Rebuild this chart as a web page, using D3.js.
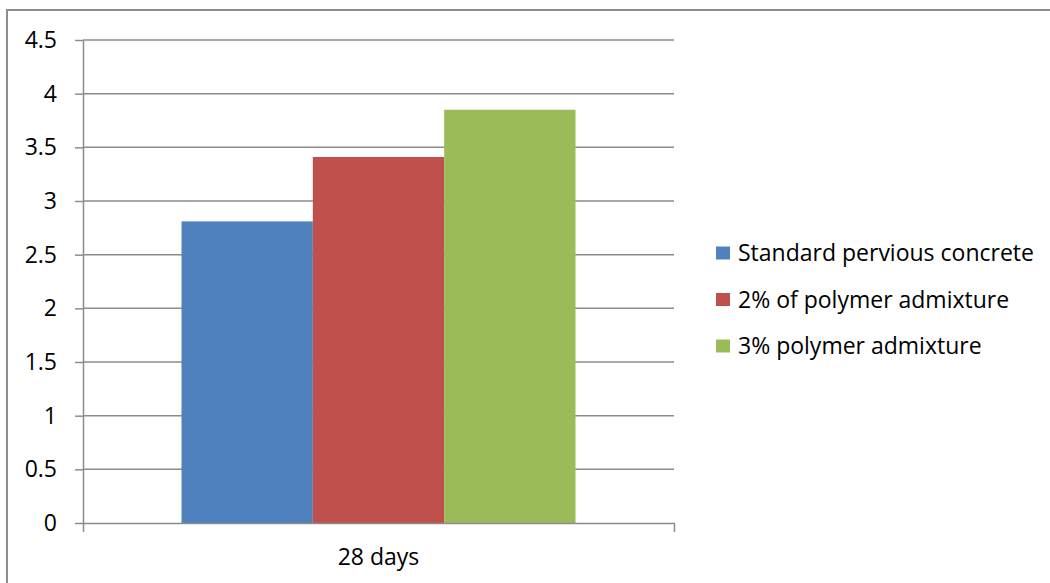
<!DOCTYPE html>
<html>
<head>
<meta charset="utf-8">
<script src="https://cdn.jsdelivr.net/npm/d3@7"></script>
<style>
  html, body { margin: 0; padding: 0; background: #fff; }
  svg { display: block; }
  text { font-family: "Open Sans", sans-serif; fill: #000; }
</style>
</head>
<body>
<svg id="chart" width="1050" height="583"></svg>
<script>
const categories = ["28 days"];
const seriesNames = ["Standard pervious concrete", "2% of polymer admixture", "3% polymer admixture"];
const seriesValues = [2.81, 3.41, 3.85];
const seriesColors = ["#4F81BD", "#C0504D", "#9BBB59"];
const yTicks = [0, 0.5, 1, 1.5, 2, 2.5, 3, 3.5, 4, 4.5];

const svg = d3.select("#chart");
const plot = { left: 83, right: 674, top: 40, bottom: 523 };
const fontSize = 23;

// outer chart border (left and top visible)
svg.append("path")
  .attr("d", "M7,583V10H1050")
  .attr("fill", "none")
  .attr("stroke", "#8c8c8c")
  .attr("stroke-width", 2);

const y = d3.scaleLinear().domain([0, 4.5]).range([plot.bottom, plot.top]);
const x0 = d3.scaleBand().domain(categories).range([plot.left, plot.right]).padding(0);
const x1 = d3.scaleBand().domain(seriesNames).range([0, x0.bandwidth()])
  .paddingInner(0).paddingOuter(0.75);

// gridlines
svg.append("g").selectAll("line").data(yTicks.filter(d => d > 0)).join("line")
  .attr("x1", plot.left).attr("x2", plot.right)
  .attr("y1", d => y(d)).attr("y2", d => y(d))
  .attr("stroke", "#8c8c8c").attr("stroke-width", 1.5);

// bars
const g = svg.append("g");
categories.forEach(cat => {
  g.selectAll("rect.b").data(seriesNames).join("rect")
    .attr("x", (s) => x0(cat) + x1(s))
    .attr("width", x1.bandwidth())
    .attr("y", (s, i) => y(seriesValues[i]))
    .attr("height", (s, i) => y(0) - y(seriesValues[i]))
    .attr("fill", (s, i) => seriesColors[i]);
});

// y axis
const yAxis = svg.append("g")
  .attr("transform", `translate(${plot.left},0)`)
  .call(d3.axisLeft(y).tickValues(yTicks).tickFormat(d3.format("")).tickSize(8).tickSizeOuter(0).tickPadding(18));
yAxis.selectAll("path, line").attr("stroke", "#8c8c8c").attr("stroke-width", 1.5);
yAxis.selectAll("text").style("font-size", fontSize + "px").style("font-family", "'Open Sans', sans-serif").attr("fill", "#000");

// x axis
const xAxis = svg.append("g")
  .attr("transform", `translate(0,${plot.bottom})`)
  .call(d3.axisBottom(x0).tickSize(0).tickSizeOuter(9).tickPadding(26));
xAxis.selectAll("path, line").attr("stroke", "#8c8c8c").attr("stroke-width", 1.5);
xAxis.selectAll("text").style("font-size", fontSize + "px").style("font-family", "'Open Sans', sans-serif").attr("fill", "#000");

// legend
const legend = svg.append("g").attr("transform", "translate(716,253)");
const rowH = 46.5;
const items = legend.selectAll("g").data(seriesNames).join("g")
  .attr("transform", (d, i) => `translate(0,${i * rowH})`);
items.append("rect")
  .attr("x", 0).attr("y", -6.5).attr("width", 14).attr("height", 13)
  .attr("fill", (d, i) => seriesColors[i]);
items.append("text")
  .attr("x", 22).attr("y", 0).attr("dy", "0.36em")
  .style("font-size", fontSize + "px")
  .text(d => d);
</script>
</body>
</html>
